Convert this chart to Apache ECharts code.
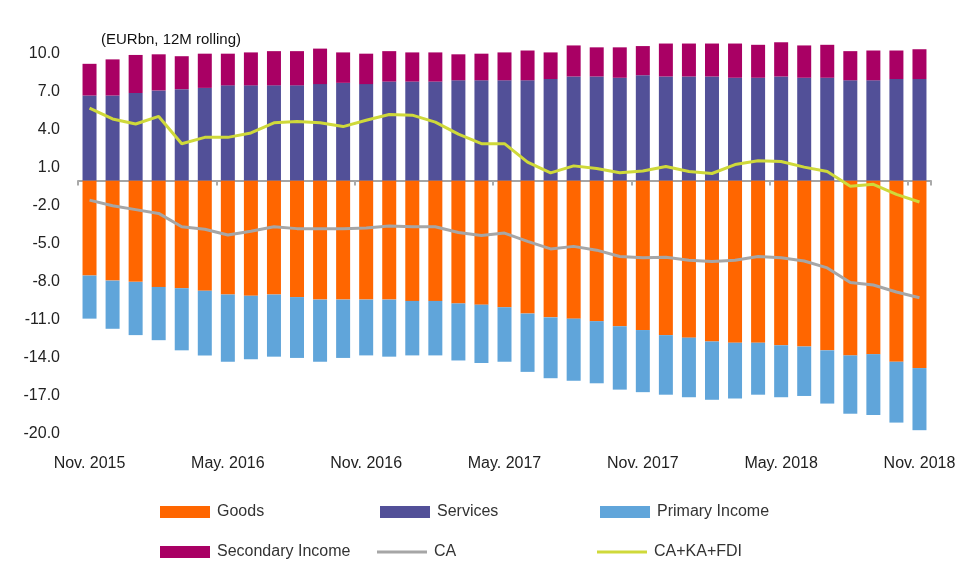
<!DOCTYPE html>
<html><head><meta charset="utf-8">
<script src="https://cdn.jsdelivr.net/npm/echarts@6/dist/echarts.min.js"></script>
<style>html,body{margin:0;padding:0;background:#fff}#c{width:962px;height:580px}</style>
</head><body><div id="c"></div>
<script>
const months = ['Nov. 2015','Dec. 2015','Jan. 2016','Feb. 2016','Mar. 2016','Apr. 2016','May. 2016','Jun. 2016','Jul. 2016','Aug. 2016','Sep. 2016','Oct. 2016','Nov. 2016','Dec. 2016','Jan. 2017','Feb. 2017','Mar. 2017','Apr. 2017','May. 2017','Jun. 2017','Jul. 2017','Aug. 2017','Sep. 2017','Oct. 2017','Nov. 2017','Dec. 2017','Jan. 2018','Feb. 2018','Mar. 2018','Apr. 2018','May. 2018','Jun. 2018','Jul. 2018','Aug. 2018','Sep. 2018','Oct. 2018','Nov. 2018'];
const goods = [-7.5,-7.9,-8.0,-8.4,-8.5,-8.7,-9.0,-9.1,-9.0,-9.2,-9.4,-9.4,-9.4,-9.4,-9.5,-9.5,-9.7,-9.8,-10.0,-10.5,-10.8,-10.9,-11.1,-11.5,-11.8,-12.2,-12.4,-12.7,-12.8,-12.8,-13.0,-13.1,-13.4,-13.8,-13.7,-14.3,-14.8];
const services = [6.7,6.7,6.9,7.1,7.2,7.3,7.5,7.5,7.5,7.5,7.6,7.7,7.6,7.8,7.8,7.8,7.9,7.9,7.9,7.9,8.0,8.2,8.2,8.1,8.3,8.2,8.2,8.2,8.1,8.1,8.2,8.1,8.1,7.9,7.9,8.0,8.0];
const primaryIncome = [-3.4,-3.8,-4.2,-4.2,-4.9,-5.1,-5.3,-5.0,-4.9,-4.8,-4.9,-4.6,-4.4,-4.5,-4.3,-4.3,-4.5,-4.6,-4.3,-4.6,-4.8,-4.9,-4.9,-5.0,-4.9,-4.7,-4.7,-4.6,-4.4,-4.1,-4.1,-3.9,-4.2,-4.6,-4.8,-4.8,-4.9];
const secondaryIncome = [2.5,2.85,3.0,2.85,2.6,2.7,2.5,2.6,2.7,2.7,2.8,2.4,2.4,2.4,2.3,2.3,2.05,2.1,2.2,2.35,2.1,2.45,2.3,2.4,2.3,2.6,2.6,2.6,2.7,2.6,2.7,2.55,2.6,2.3,2.35,2.25,2.35];
const ca = [-1.55,-2.0,-2.3,-2.6,-3.65,-3.85,-4.3,-4.0,-3.65,-3.8,-3.8,-3.8,-3.75,-3.6,-3.65,-3.65,-4.1,-4.35,-4.15,-4.8,-5.4,-5.2,-5.5,-6.0,-6.1,-6.05,-6.3,-6.4,-6.3,-6.0,-6.1,-6.35,-6.9,-8.05,-8.25,-8.8,-9.25];
const caKaFdi = [5.7,4.85,4.45,5.05,2.9,3.4,3.4,3.75,4.55,4.65,4.55,4.25,4.75,5.2,5.15,4.6,3.65,2.9,2.9,1.45,0.6,1.15,0.95,0.6,0.75,1.1,0.7,0.55,1.25,1.55,1.5,1.05,0.7,-0.45,-0.3,-1.1,-1.7];
const yTicks = {min:-20, max:11, interval:3};

const font = 'Liberation Sans, Arial, sans-serif';
const chart = echarts.init(document.getElementById('c'));
const leg = (name, left, top, line) => ({
  data:[name], left:left, top:top, itemWidth:50, itemHeight: line?3:12, itemGap:0,
  textStyle:{fontSize:16, color:'#333', fontFamily:font, padding:[0,0,0,2]},
  icon: line ? 'rect' : 'rect', selectedMode:false
});
chart.setOption({
  animation:false,
  title:{text:'(EURbn, 12M rolling)', left:96, top:27, textStyle:{fontSize:15, fontWeight:'normal', color:'#111', fontFamily:font}},
  legend:[leg('Goods',155,499),leg('Services',375,499),leg('Primary Income',595,499),
          leg('Secondary Income',155,539),leg('CA',372,539,true),leg('CA+KA+FDI',592,539,true)],
  grid:{left:78, right:31, top:41, height:393},
  xAxis:[
    {type:'category', data:months, position:'bottom', offset:14, axisLine:{show:false,onZero:false}, axisTick:{show:false},
     axisLabel:{interval:5, fontSize:16, color:'#222', fontFamily:font}},
    {type:'category', data:months, position:'bottom', axisLine:{show:true,onZero:true,lineStyle:{color:'#888',width:1.5}},
     axisTick:{show:true, interval:5, length:5, lineStyle:{color:'#aaa', width:2}}, axisLabel:{show:false}}
  ],
  yAxis:{type:'value', min:yTicks.min, max:yTicks.max, interval:yTicks.interval, splitLine:{show:false}, axisLine:{show:false}, axisTick:{show:false},
    axisLabel:{showMaxLabel:false, fontSize:16, color:'#222', fontFamily:font, margin:18, formatter:v=>v.toFixed(1)}},
  series:[
    {name:'Goods', type:'bar', stack:'a', data:goods, barWidth:14, itemStyle:{color:'#FF6600'}},
    {name:'Services', type:'bar', stack:'a', data:services, barWidth:14, itemStyle:{color:'#525098'}},
    {name:'Primary Income', type:'bar', stack:'a', data:primaryIncome, barWidth:14, itemStyle:{color:'#60A5DA'}},
    {name:'Secondary Income', type:'bar', stack:'a', data:secondaryIncome, barWidth:14, itemStyle:{color:'#A90064'}},
    {name:'CA', type:'line', data:ca, symbol:'none', lineStyle:{color:'#A6A6A6', width:3}, itemStyle:{color:'#A6A6A6'}},
    {name:'CA+KA+FDI', type:'line', data:caKaFdi, symbol:'none', lineStyle:{color:'#CFD93A', width:3}, itemStyle:{color:'#CFD93A'}}
  ]
});
</script></body></html>
